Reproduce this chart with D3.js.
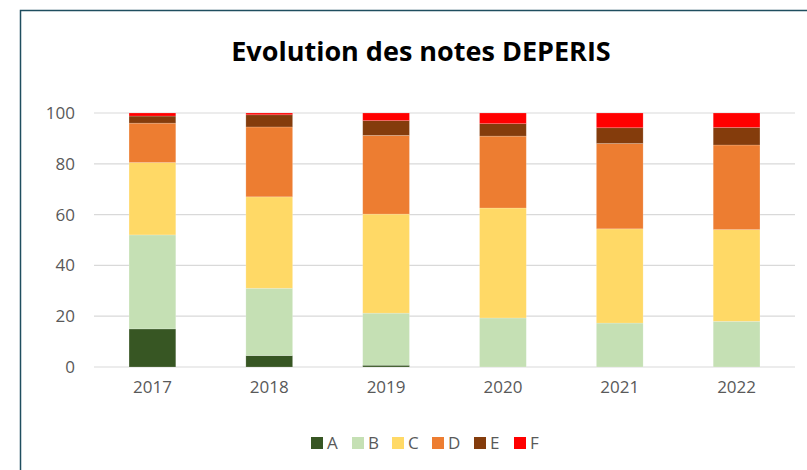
<!DOCTYPE html>
<html>
<head>
<meta charset="utf-8">
<script src="https://cdn.jsdelivr.net/npm/d3@7"></script>
<style>
  body { margin: 0; background: #fff; }
  svg { display: block; }
</style>
</head>
<body>
<div id="plot"></div>
<script>
var years = ["2017", "2018", "2019", "2020", "2021", "2022"];
var notes = ["A", "B", "C", "D", "E", "F"];
var valuesA = [15, 4.5, 0.7, 0, 0, 0];
var valuesB = [37, 26.5, 20.5, 19.3, 17.3, 18];
var valuesC = [28.5, 36, 39, 43.3, 37.1, 36.1];
var valuesD = [15.5, 27.5, 31, 28.3, 33.6, 33.3];
var valuesE = [2.8, 4.8, 5.8, 4.9, 6.2, 6.9];
var valuesF = [1.2, 0.7, 3.0, 4.2, 5.8, 5.7];
var yTicks = [0, 20, 40, 60, 80, 100];
var colors = ["#375623", "#c5e0b4", "#ffd966", "#ed7d31", "#843c0c", "#ff0000"];

var series = [valuesA, valuesB, valuesC, valuesD, valuesE, valuesF];
var dataSet = years.map(function(y, i) {
    var row = {"year": y};
    notes.forEach(function(n, j) { row[n] = series[j][i]; });
    return row;
});

plotBarChart(dataSet);

function plotBarChart(dataSet) {
    var width = 807;
    var height = 470;

    var svg = d3.select("#plot").append("svg").attr("width", width).attr("height", height);

    // chart border (continues past the window)
    svg.append("rect")
        .attr("x", 20.5).attr("y", 10.5)
        .attr("width", 820).attr("height", 480)
        .attr("fill", "#fff")
        .attr("stroke", "#1f4e5f")
        .attr("stroke-width", 1.5);

    svg.append("text")
        .attr("x", 421).attr("y", 61)
        .attr("text-anchor", "middle")
        .style("font-family", "'Open Sans', sans-serif")
        .style("font-weight", "bold")
        .style("font-size", "27px")
        .attr("fill", "#000")
        .text("Evolution des notes DEPERIS");

    var xScale = d3.scaleBand()
        .range([94, 795])
        .paddingInner(0.6)
        .paddingOuter(0.3)
        .domain(years);

    var yScale = d3.scaleLinear()
        .domain([0, 100])
        .range([367, 113]);

    // gridlines
    svg.append("g")
        .selectAll("line")
        .data(yTicks)
        .enter()
        .append("line")
        .attr("x1", 94).attr("x2", 795)
        .attr("y1", function(d) { return yScale(d); })
        .attr("y2", function(d) { return yScale(d); })
        .attr("stroke", "#d9d9d9")
        .attr("stroke-width", 1.2);

    var yAxis = svg.append("g")
        .attr("transform", "translate(" + 84 + "," + 0 + ")")
        .call(d3.axisLeft(yScale).tickValues(yTicks).tickSize(0).tickPadding(9));
    yAxis.select(".domain").remove();

    var xAxis = svg.append("g")
        .attr("transform", "translate(" + 0 + "," + 367 + ")")
        .call(d3.axisBottom(xScale).tickSize(0).tickPadding(14));
    xAxis.select(".domain").remove();

    svg.selectAll(".tick text")
        .style("font-family", "'Open Sans', sans-serif")
        .style("font-size", "17px")
        .attr("fill", "#595959");

    var stacked = d3.stack().keys(notes)(dataSet);

    svg.append("g")
        .selectAll("g")
        .data(stacked)
        .enter()
        .append("g")
        .attr("fill", function(d, i) { return colors[i]; })
        .selectAll("rect")
        .data(function(d) { return d; })
        .enter()
        .append("rect")
        .attr("x", function(d) { return xScale(d.data.year); })
        .attr("y", function(d) { return yScale(d[1]); })
        .attr("width", xScale.bandwidth())
        .attr("height", function(d) { return yScale(d[0]) - yScale(d[1]); })
        .attr("stroke", "#fff")
        .attr("stroke-opacity", 0.25)
        .attr("stroke-width", 0.7);

    // legend
    var legendX = [311, 352, 392, 432, 474, 514];
    var legend = svg.append("g")
        .selectAll("g")
        .data(notes)
        .enter()
        .append("g")
        .attr("transform", function(d, i) { return "translate(" + legendX[i] + "," + 437 + ")"; });
    legend.append("rect")
        .attr("width", 12).attr("height", 12)
        .attr("fill", function(d, i) { return colors[i]; });
    legend.append("text")
        .attr("x", 16).attr("y", 12)
        .style("font-family", "'Open Sans', sans-serif")
        .style("font-size", "17px")
        .attr("fill", "#595959")
        .text(function(d) { return d; });
}
</script>
</body>
</html>
